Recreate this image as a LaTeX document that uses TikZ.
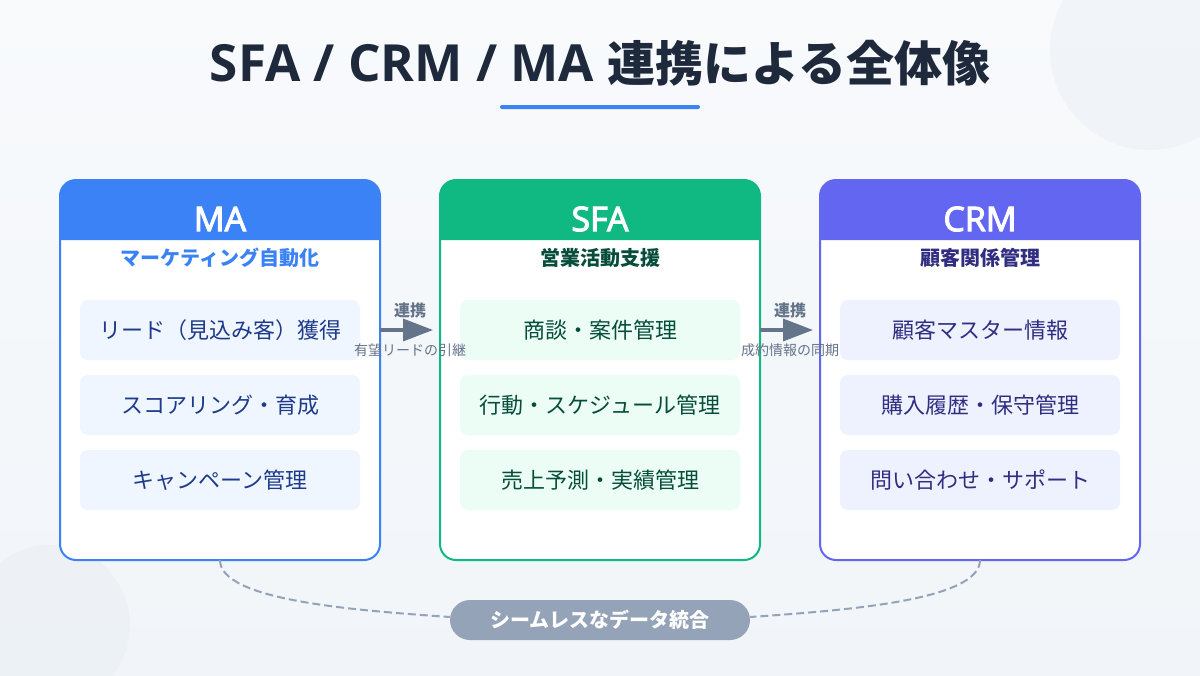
\documentclass[tikz,border=0pt]{standalone}
\usepackage{fontspec}
\setmainfont{Noto Sans CJK JP}
\newfontfamily\latinf{Open Sans}
\newfontfamily\latinh{Open Sans}[FakeBold=3]
\usetikzlibrary{arrows.meta,shadings}
\definecolor{blueC}{HTML}{3B82F6}
\definecolor{greenC}{HTML}{10B981}
\definecolor{indigoC}{HTML}{6366F1}
\definecolor{slateT}{HTML}{1E293B}
\definecolor{slateA}{HTML}{64748B}
\definecolor{slateB}{HTML}{94A3B8}
\definecolor{blueL}{HTML}{EFF6FF}
\definecolor{greenL}{HTML}{ECFDF5}
\definecolor{indigoL}{HTML}{EEF2FF}
\definecolor{blueD}{HTML}{1E3A8A}
\definecolor{greenD}{HTML}{064E3B}
\definecolor{indigoD}{HTML}{312E81}
\definecolor{bgA}{HTML}{F8FAFC}
\definecolor{bgB}{HTML}{F1F5F9}
\definecolor{blob}{HTML}{E2E8F0}
\tikzset{
 px/.style={x=0.75pt,y=-0.75pt},
 itembox/.style={rounded corners=6pt,minimum width=210pt,minimum height=45pt,inner sep=0pt,align=center,font=\fontsize{16.5}{20}\selectfont},
 headtxt/.style={text=white,font=\fontsize{25.5}{28}\latinh\selectfont,inner sep=0pt},
 subtxt/.style={font=\fontsize{15}{18}\bfseries\selectfont,inner sep=0pt},
 linktxt/.style={text=slateA,font=\fontsize{12}{14}\bfseries\selectfont,inner sep=0pt},
 linksub/.style={text=slateA,font=\fontsize{10.5}{12}\selectfont,inner sep=0pt},
 flow/.style={draw=slateA,line width=2.6pt,-{Triangle[length=22.5pt,width=16.5pt]}},
 dashlink/.style={draw=slateB,line width=1.5pt,dash pattern=on 6pt off 3pt},
}
\begin{document}
\begin{tikzpicture}[px]
\useasboundingbox (0,0) rectangle (1200,675);
\shade[top color=bgA,bottom color=bgB,shading angle=0] (0,0) rectangle (1200,675);
\begin{scope}
\clip (0,0) rectangle (1200,675);
\fill[blob,opacity=0.3] (1150,50) circle[radius=75pt];
\fill[blob,opacity=0.3] (50,625) circle[radius=60pt];
\end{scope}
\node[text=slateT,font=\fontsize{36}{42}\bfseries\selectfont,inner sep=0pt,anchor=base] (title) at (600,81) {{\fontsize{38.4}{42}\latinf\bfseries\selectfont SFA / CRM / MA }連携による全体像};
\fill[blueC,rounded corners=1.5pt] (500,105) rectangle (700,109);
% cards
\newcommand{\card}[6]{%
 \fill[white,rounded corners=12pt] (#1,180) rectangle ++(320,380);
 \fill[#2] (#1,240) -- (#1,196) arc[start angle=180,end angle=90,radius=12pt] -- (#1+304,180) arc[start angle=90,end angle=0,radius=12pt] -- (#1+320,240) -- cycle;
 \draw[#2,line width=1.5pt,rounded corners=12pt] (#1,180) rectangle (#1+320,560);
 \node[headtxt] (#3head) at (#1+160,219) {#4};
 \node[subtxt,text=#5] (#3sub) at (#1+160,257.5) {#6};
}
\coordinate (maB) at (220,560);
\coordinate (crmB) at (980,560);
\card{60}{blueC}{ma}{MA}{blueC}{マーケティング自動化}
\card{440}{greenC}{sfa}{SFA}{greenD}{営業活動支援}
\card{820}{indigoC}{crm}{CRM}{indigoD}{顧客関係管理}
\foreach \n/\y/\t in {a/330/リード（見込み客）獲得,b/405/スコアリング・育成,c/480/キャンペーン管理}
  \node[itembox,fill=blueL,text=blueD] (ma\n) at (220,\y) {\t};
\foreach \n/\y/\t in {a/330/商談・案件管理,b/405/行動・スケジュール管理,c/480/売上予測・実績管理}
  \node[itembox,fill=greenL,text=greenD] (sfa\n) at (600,\y) {\t};
\foreach \n/\y/\t in {a/330/顧客マスター情報,b/405/購入履歴・保守管理,c/480/問い合わせ・サポート}
  \node[itembox,fill=indigoL,text=indigoD] (crm\n) at (980,\y) {\t};
% links
\coordinate (f1s) at (380,330); \coordinate (f1e) at (433,330);
\coordinate (f2s) at (760,330); \coordinate (f2e) at (813,330);
\draw[flow] (f1s) -- (f1e);
\draw[flow] (f2s) -- (f2e);
\node[linktxt] (l1) at (410,310) {連携};
\node[linktxt] (l2) at (790,310) {連携};
\node[linksub] (s1) at (410,350) {有望リードの引継};
\node[linksub] (s2) at (790,350) {成約情報の同期};
% pill
\node[fill=slateB,rounded corners=15pt,minimum width=225pt,minimum height=30pt,inner sep=0pt,text=white,font=\fontsize{15}{18}\bfseries\selectfont] (pill) at (600,620) {シームレスなデータ統合};
\draw[dashlink] (maB) .. controls (220,600) and (350,610) .. (pill.west |- 0,617);
\draw[dashlink] (crmB) .. controls (980,600) and (850,610) .. (pill.east |- 0,617);
\end{tikzpicture}
\end{document}
